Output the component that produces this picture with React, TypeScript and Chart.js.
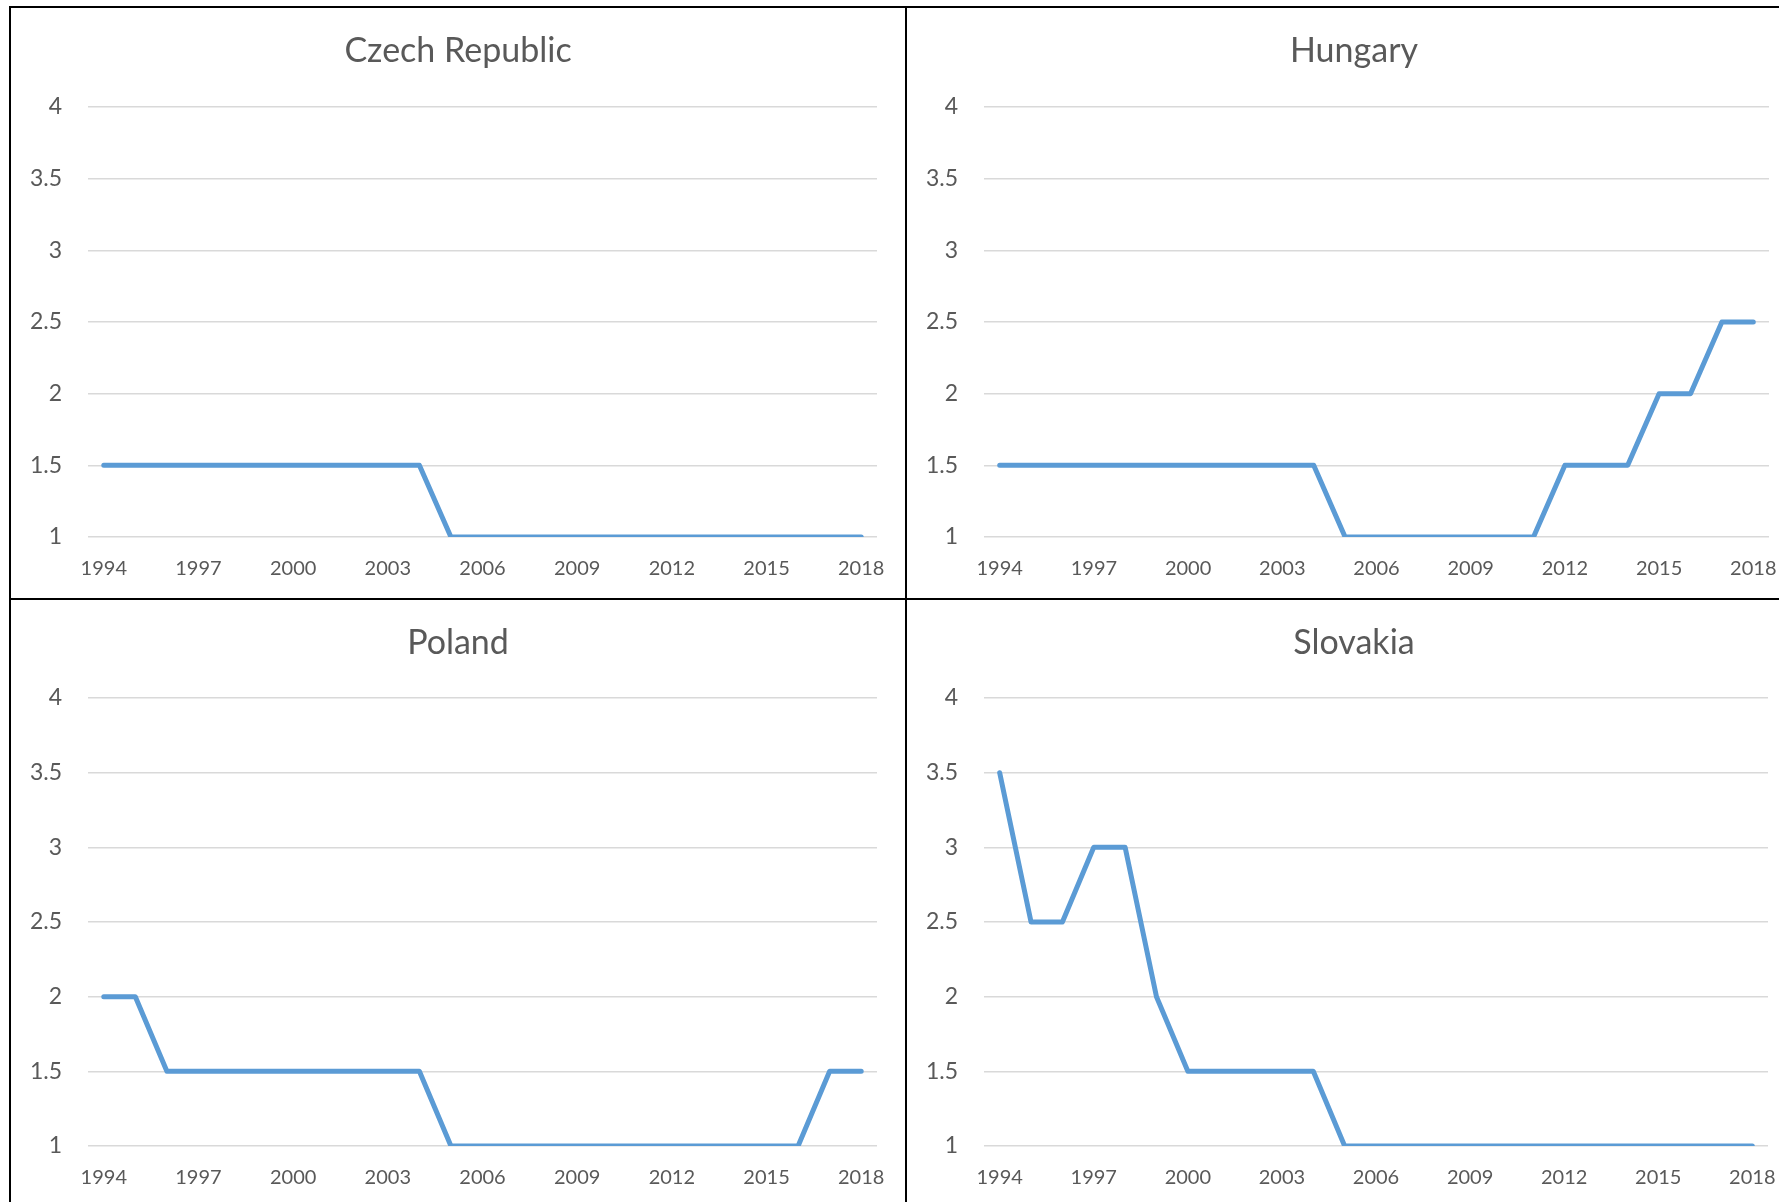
import React, { useEffect, useRef } from "react";
import { Chart, registerables } from "chart.js";

Chart.register(...registerables);

const years: string[] = [
  "1994", "1995", "1996", "1997", "1998", "1999", "2000", "2001", "2002", "2003",
  "2004", "2005", "2006", "2007", "2008", "2009", "2010", "2011", "2012", "2013",
  "2014", "2015", "2016", "2017", "2018",
];

const czechValues: number[] = [1.5, 1.5, 1.5, 1.5, 1.5, 1.5, 1.5, 1.5, 1.5, 1.5, 1.5, 1, 1, 1, 1, 1, 1, 1, 1, 1, 1, 1, 1, 1, 1];
const hungaryValues: number[] = [1.5, 1.5, 1.5, 1.5, 1.5, 1.5, 1.5, 1.5, 1.5, 1.5, 1.5, 1, 1, 1, 1, 1, 1, 1, 1.5, 1.5, 1.5, 2, 2, 2.5, 2.5];
const polandValues: number[] = [2, 2, 1.5, 1.5, 1.5, 1.5, 1.5, 1.5, 1.5, 1.5, 1.5, 1, 1, 1, 1, 1, 1, 1, 1, 1, 1, 1, 1, 1.5, 1.5];
const slovakiaValues: number[] = [3.5, 2.5, 2.5, 3, 3, 2, 1.5, 1.5, 1.5, 1.5, 1.5, 1, 1, 1, 1, 1, 1, 1, 1, 1, 1, 1, 1, 1, 1];

const yMin = 1;
const yMax = 4;
const yStep = 0.5;

const FONT = "Lato, 'Open Sans', sans-serif";
const TEXT = "#595959";

type PanelProps = {
  title: string;
  values: number[];
  left: number;
  top: number;
  width: number;
  height: number;
  areaLeft: number;
  areaRight: number;
  areaTop: number;
  areaBottom: number;
  titleCenter: number;
};

function Panel(p: PanelProps) {
  const ref = useRef<HTMLCanvasElement | null>(null);
  useEffect(() => {
    if (!ref.current) return;
    const titleSize = 34;
    const titleLH = titleSize * 1.2;
    const padTop = p.titleCenter - titleLH / 2;
    const padBottom = p.areaTop - padTop - titleLH;
    const rightSpace = p.width - p.areaRight;
    const chart = new Chart(ref.current, {
      type: "line",
      data: {
        labels: years,
        datasets: [
          {
            data: p.values,
            borderColor: "#5B9BD5",
            backgroundColor: "#5B9BD5",
            borderWidth: 5,
            borderCapStyle: "round",
            borderJoinStyle: "round",
            pointRadius: 0,
            pointHoverRadius: 0,
            tension: 0,
            fill: false,
            yAxisID: "y",
          },
        ],
      },
      options: {
        animation: false,
        responsive: false,
        maintainAspectRatio: false,
        layout: {
          padding: { left: 0, top: 0, bottom: 0, right: 0 },
        },
        plugins: {
          legend: { display: false },
          tooltip: { enabled: false },
          title: {
            display: true,
            text: p.title,
            color: TEXT,
            font: { family: FONT, size: titleSize, weight: "normal", lineHeight: 1.2 },
            padding: { top: padTop, bottom: padBottom },
          },
        },
        scales: {
          x: {
            type: "category",
            offset: true,
            grid: { display: false, drawTicks: false },
            border: { display: false },
            ticks: {
              autoSkip: false,
              maxRotation: 0,
              minRotation: 0,
              padding: 20,
              color: TEXT,
              font: { family: FONT, size: 20 },
              callback: (_v: any, i: number) => (i % 3 === 0 ? years[i] : ""),
            },
            afterFit: (scale: any) => {
              scale.height = p.height - p.areaBottom;
            },
          },
          y: {
            position: "left",
            min: yMin,
            max: yMax,
            grid: { color: "#D9D9D9", lineWidth: 1.5, drawTicks: false },
            border: { display: false },
            ticks: {
              stepSize: yStep,
              padding: 26,
              color: TEXT,
              font: { family: FONT, size: 23 },
              callback: (v: any) => String(Number(v)),
            },
            afterFit: (scale: any) => {
              scale.width = p.areaLeft;
            },
          },
          yRight: {
            type: "linear",
            position: "right",
            display: true,
            min: yMin,
            max: yMax,
            grid: { display: false, drawTicks: false },
            border: { display: false },
            ticks: { display: false },
            afterFit: (scale: any) => {
              scale.width = rightSpace;
            },
          },
        },
      },
    });
    return () => chart.destroy();
  }, []);
  return (
    <canvas
      ref={ref}
      width={p.width}
      height={p.height}
      style={{ position: "absolute", left: p.left, top: p.top, width: p.width, height: p.height }}
    />
  );
}

const line = (l: number, t: number, w: number, h: number) => (
  <div style={{ position: "absolute", left: l, top: t, width: w, height: h, background: "#000" }} />
);

export default function App() {
  return (
    <div
      style={{
        position: "fixed",
        left: 0,
        top: 0,
        width: 1779,
        height: 1202,
        overflow: "hidden",
        background: "#fff",
      }}
    >
      <Panel title="Czech Republic" values={czechValues} left={11} top={8} width={894} height={589}
        areaLeft={77} areaRight={866} areaTop={99} areaBottom={529} titleCenter={43} />
      <Panel title="Hungary" values={hungaryValues} left={907} top={8} width={894} height={589}
        areaLeft={77} areaRight={862} areaTop={99} areaBottom={529} titleCenter={43} />
      <Panel title="Poland" values={polandValues} left={11} top={600} width={894} height={608}
        areaLeft={77} areaRight={866} areaTop={98} areaBottom={546} titleCenter={43} />
      <Panel title="Slovakia" values={slovakiaValues} left={907} top={600} width={894} height={608}
        areaLeft={77} areaRight={861} areaTop={98} areaBottom={546} titleCenter={43} />
      {line(9, 6, 1770, 2)}
      {line(9, 6, 2, 1196)}
      {line(905, 6, 2, 1196)}
      {line(9, 598, 1770, 2)}
    </div>
  );
}
